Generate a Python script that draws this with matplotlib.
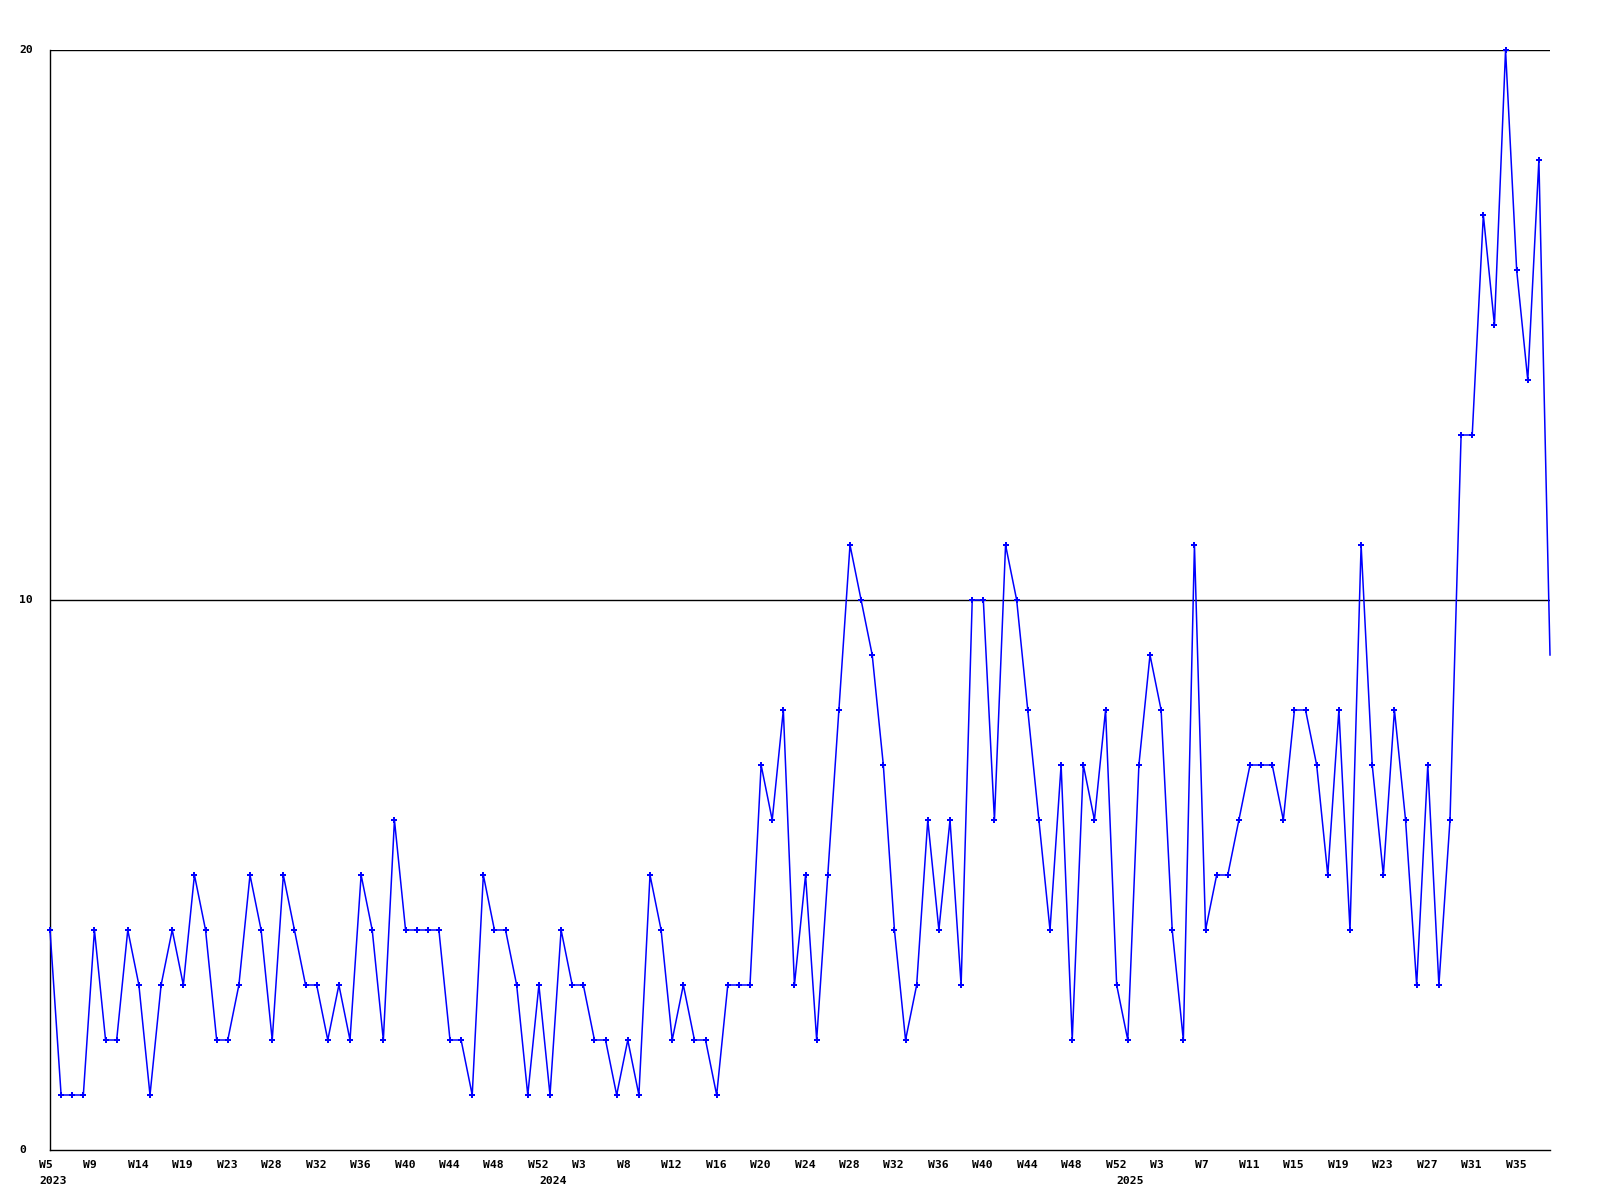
import matplotlib
matplotlib.use("Agg")
import matplotlib.pyplot as plt
import matplotlib.transforms as mtransforms

# Weekly values, starting at 2023 W5
values = [4, 1, 1, 1, 4, 2, 2, 4, 3, 1, 3, 4, 3, 5, 4, 2, 2, 3, 5, 4,
          2, 5, 4, 3, 3, 2, 3, 2, 5, 4, 2, 6, 4, 4, 4, 4, 2,
          2, 1, 5, 4, 4, 3, 1, 3, 1, 4, 3, 3, 2, 2, 1, 2, 1, 5, 4,
          2, 3, 2, 2, 1, 3, 3, 3, 7, 6, 8, 3, 5, 2,
          5, 8, 11, 10, 9, 7, 4, 2, 3, 6, 4, 6, 3, 10, 10, 6, 11, 10,
          8, 6, 4, 7, 2, 7, 6, 8, 3, 2, 7, 9, 8, 4,
          2, 11, 4, 5, 5, 6, 7, 7, 7, 6, 8, 8, 7, 5, 8, 4, 11, 7, 5,
          8, 6, 3, 7, 3, 6, 13, 13, 17, 15, 20, 16, 14, 18, 9]

week_labels = ["W5", "W9", "W14", "W19", "W23", "W28", "W32", "W36", "W40",
               "W44", "W48", "W52",
               "W3", "W8", "W12", "W16", "W20", "W24", "W28", "W32", "W36",
               "W40", "W44", "W48", "W52",
               "W3", "W7", "W11", "W15", "W19", "W23", "W27", "W31", "W35"]
week_label_step = 4

year_labels = ["2023", "2024", "2025"]
year_positions = [0, 45, 97]

y_ticks = [0, 10, 20]

W, H = 1600, 1200
fig = plt.figure(figsize=(W / 100, H / 100), dpi=100)
ax = fig.add_axes([50 / W, 50 / H, 1500 / W, 1100 / H])

x = list(range(len(values)))
ax.plot(x, values, color="#0000ff", linewidth=1.1, zorder=3, clip_on=False)
ax.plot(x[:-1], values[:-1], linestyle="none", marker="P", markersize=5,
        color="#0000ff", markeredgewidth=0, zorder=4, clip_on=False)

ax.set_xlim(0, len(values) - 1)
ax.set_ylim(0, 20)

for s in ["top", "right"]:
    ax.spines[s].set_visible(False)
for s in ["left", "bottom"]:
    ax.spines[s].set_color("black")
    ax.spines[s].set_linewidth(1.0)

ax.set_xticks([])
ax.set_yticks([])
for yv in y_ticks[1:]:
    ax.axhline(yv, color="black", linewidth=1.0, zorder=2)

font = dict(family="DejaVu Sans Mono", fontweight="bold", fontsize=8.2,
            color="black")

# y labels
ytrans = mtransforms.blended_transform_factory(fig.transFigure, ax.transData)
for yv in y_ticks:
    ax.text(19 / W, yv, str(yv), transform=ytrans, ha="left", va="center",
            clip_on=False, **font)

# x labels (left aligned, shifted a little left of the point)
base = mtransforms.blended_transform_factory(ax.transData, fig.transFigure)
xtrans = mtransforms.offset_copy(base, fig=fig, x=-11, y=0, units="dots")
for i, lab in enumerate(week_labels):
    ax.text(i * week_label_step, (H - 1165.5) / H, lab, transform=xtrans,
            ha="left", va="center", clip_on=False, **font)
for pos, lab in zip(year_positions, year_labels):
    ax.text(pos, (H - 1181.5) / H, lab, transform=xtrans,
            ha="left", va="center", clip_on=False, **font)

fig.savefig("out.png", dpi=100, facecolor="white")
